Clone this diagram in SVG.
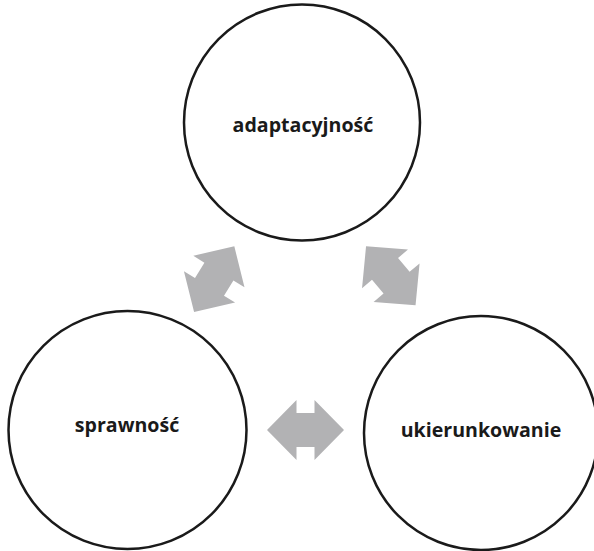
<svg xmlns="http://www.w3.org/2000/svg" width="594" height="551" viewBox="0 0 594 551">
  <defs>
    <style>
      .node circle { fill: #ffffff; stroke: #1a1a1a; stroke-width: 2.5; }
      .node text { font-family: "Open Sans", "Noto Sans", "DejaVu Sans", sans-serif; font-weight: bold; font-size: 19.6px; fill: #1a1a1a; text-anchor: middle; }
      .arrow { fill: #b2b2b4; stroke: none; }
    </style>
    <polygon id="dbl" points="-38.5,0 -9,-30 -9,-17 9,-17 9,-30 38.5,0 9,30 9,17 -9,17 -9,30"/>
  </defs>
  <rect width="594" height="551" fill="#ffffff"/>
  <g id="node-adaptacyjnosc" class="node">
    <circle cx="302" cy="122.5" r="118"/>
    <text x="303" y="132">adaptacyjność</text>
  </g>
  <g id="node-sprawnosc" class="node">
    <circle cx="127.5" cy="430" r="119"/>
    <text x="127" y="432">sprawność</text>
  </g>
  <g id="node-ukierunkowanie" class="node">
    <circle cx="481" cy="433" r="117"/>
    <text x="481" y="437">ukierunkowanie</text>
  </g>
  <g id="connectors">
    <use href="#dbl" class="arrow" transform="translate(214.2,279.2) rotate(-58.5)"/>
    <use href="#dbl" class="arrow" transform="translate(390.8,275.8) rotate(50)"/>
    <use href="#dbl" class="arrow" transform="translate(305.5,430)"/>
  </g>
</svg>
